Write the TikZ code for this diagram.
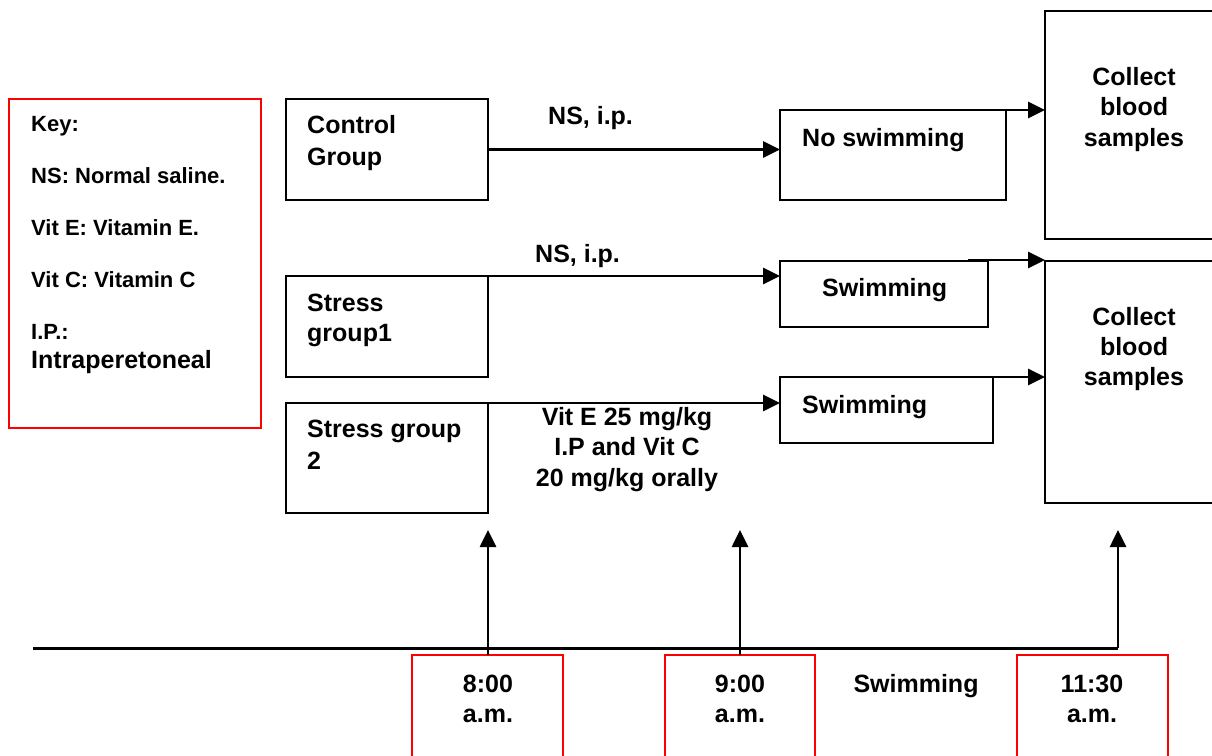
\documentclass[tikz,border=0pt]{standalone}
\usepackage{fontspec}
\setmainfont{Liberation Sans}
\usetikzlibrary{arrows.meta,calc}
\begin{document}
\begin{tikzpicture}[x=1pt,y=-1pt,
  box/.style={draw, line width=2.3pt, rectangle, inner sep=0pt, outer sep=0pt, anchor=north west},
  redbox/.style={draw=red, line width=1.8pt, rectangle, inner sep=0pt, outer sep=0pt, anchor=north west},
  txt/.style={font=\bfseries\fontsize{25}{30}\selectfont, inner sep=0pt},
  ktxt/.style={font=\bfseries\fontsize{22}{26}\selectfont, inner sep=0pt, anchor=base west},
  arr/.style={line width=2.7pt, -{Triangle[length=17pt,width=16pt]}}]
\useasboundingbox (0,0) rectangle (1212,755);

% key
\node[redbox, minimum width=252pt, minimum height=329pt] (key) at (9,99) {};
\node[ktxt] (k1) at (31,131) {Key:};
\node[ktxt] (k2) at (31,183) {NS: Normal saline.};
\node[ktxt] (k3) at (31,235) {Vit E: Vitamin E.};
\node[ktxt] (k4) at (31,287) {Vit C: Vitamin C};
\node[ktxt] (k5) at (31,339) {I.P.:};
\node[txt, anchor=base west] (k6) at (31,368) {Intraperetoneal};

% group boxes
\node[box, minimum width=202pt, minimum height=101pt] (ctrl) at (286,99) {};
\node[txt, anchor=base west] (ctrlA) at (307,133) {Control};
\node[txt, anchor=base west] (ctrlB) at (307,165) {Group};

\node[box, minimum width=202pt, minimum height=101pt] (s1) at (286,276) {};
\node[txt, anchor=base west] (s1A) at (307,311) {Stress};
\node[txt, anchor=base west] (s1B) at (307,341) {group1};

\node[box, minimum width=202pt, minimum height=110pt] (s2) at (286,403) {};
\node[txt, anchor=base west] (s2A) at (307,437) {Stress group};
\node[txt, anchor=base west] (s2B) at (307,469) {2};

% activity boxes
\node[box, minimum width=226pt, minimum height=90pt] (nosw) at (780,110) {};
\node[txt, anchor=base west] (noswT) at (802,146) {No swimming};

\node[box, minimum width=208pt, minimum height=66pt] (sw1) at (780,261) {};
\node[txt, anchor=base west] (sw1T) at (822,296) {Swimming};

\node[box, minimum width=213pt, minimum height=66pt] (sw2) at (780,377) {};
\node[txt, anchor=base west] (sw2T) at (802,413) {Swimming};

% collect boxes
\node[box, minimum width=175pt, minimum height=228pt] (col1) at (1045,11) {};
\node[txt, anchor=base] (col1A) at (1134,85) {Collect};
\node[txt, anchor=base] (col1B) at (1134,115) {blood};
\node[txt, anchor=base] (col1C) at (1134,146) {samples};

\node[box, minimum width=175pt, minimum height=242pt] (col2) at (1045,261) {};
\node[txt, anchor=base] (col2A) at (1134,325) {Collect};
\node[txt, anchor=base] (col2B) at (1134,355) {blood};
\node[txt, anchor=base] (col2C) at (1134,385) {samples};

% treatment labels
\node[txt, anchor=base west] (ns1) at (548,124) {NS, i.p.};
\node[txt, anchor=base west] (ns2) at (535,262) {NS, i.p.};
\node[txt, anchor=base] (vA) at (627,425) {Vit E 25 mg/kg};
\node[txt, anchor=base] (vB) at (627,455) {I.P and Vit C};
\node[txt, anchor=base] (vC) at (627,486) {20 mg/kg orally};

% arrows groups -> activities
\draw[arr] (ctrl.east) -- (ctrl.east -| nosw.west);
\draw[arr] (s1.north east) -- (s1.north east -| sw1.west);
\draw[arr] (s2.north east) -- (s2.north east -| sw2.west);

% arrows activities -> collect
\coordinate (c1s) at ($(nosw.north east)+(-27,0)$);
\draw[arr] (c1s) -- (c1s -| col1.west);
\coordinate (c2s) at ($(sw1.north east)+(-20,-1)$);
\draw[arr] (c2s) -- (c2s -| col2.west);
\coordinate (c3s) at ($(sw2.north east)+(-49,0)$);
\draw[arr] (c3s) -- (c3s -| col2.west);

% timeline
\coordinate (tlA) at (33,648);
\coordinate (tlB) at (1118,648);
\draw[line width=3pt] (tlA) -- (tlB);

\node[redbox, minimum width=151pt, minimum height=110pt] (t1) at (412,655) {};
\node[redbox, minimum width=150pt, minimum height=110pt] (t2) at (665,655) {};
\node[redbox, minimum width=151pt, minimum height=110pt] (t3) at (1017,655) {};

\node[txt, anchor=base] (t1A) at (488,692) {8:00};
\node[txt, anchor=base] (t1B) at (488,722) {a.m.};
\node[txt, anchor=base] (t2A) at (740,692) {9:00};
\node[txt, anchor=base] (t2B) at (740,722) {a.m.};
\node[txt, anchor=base] (t3A) at (1092,692) {11:30};
\node[txt, anchor=base] (t3B) at (1092,722) {a.m.};
\node[txt, anchor=base] (swT) at (916,692) {Swimming};

\coordinate (u1b) at (488,655);
\coordinate (u1) at (488,530);
\coordinate (u2) at (740,530);
\coordinate (u3b) at (1118,648);
\coordinate (u3) at (1118,530);
\draw[arr] (u1b) -- (u1);
\draw[arr] (t2.north) -- (u2);
\draw[arr] (u3b) -- (u3);
\end{tikzpicture}
\end{document}
